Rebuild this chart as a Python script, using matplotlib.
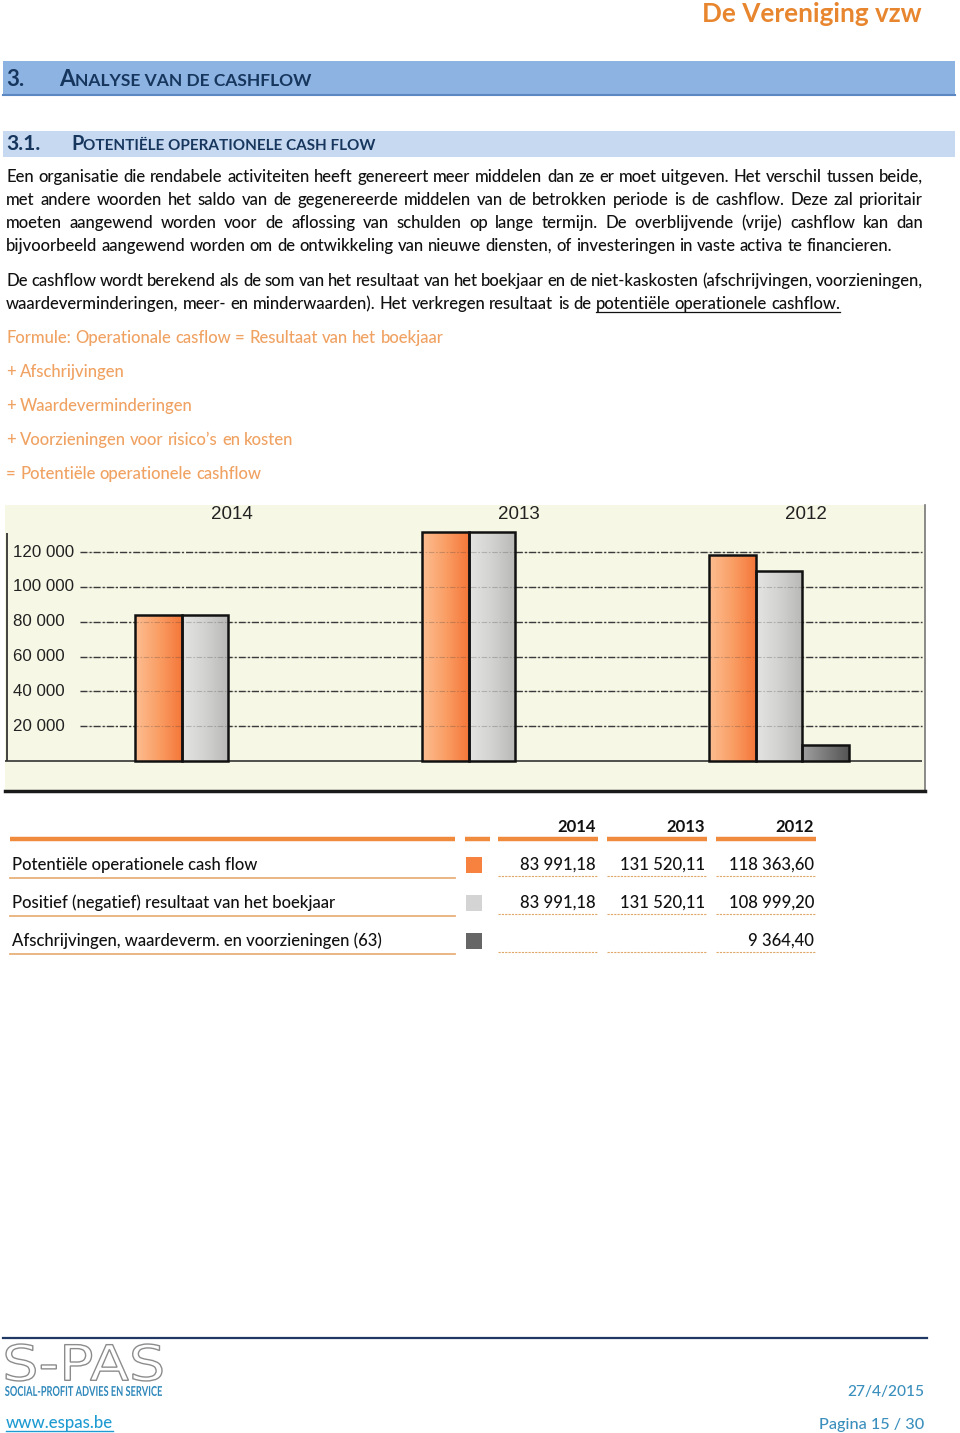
import numpy as np
import matplotlib
matplotlib.use('Agg')
import matplotlib.pyplot as plt
from matplotlib.patches import Rectangle, PathPatch
from matplotlib.colors import LinearSegmentedColormap
from matplotlib.textpath import TextPath
from matplotlib.font_manager import FontProperties
from matplotlib.transforms import Affine2D

# data of the chart / table
years = ['2014', '2013', '2012']
cashflow = [83991.18, 131520.11, 118363.60]
resultaat = [83991.18, 131520.11, 108999.20]
afschrijvingen = [np.nan, np.nan, 9364.40]
row_labels = ['Potentiële operationele cash flow',
              'Positief (negatief) resultaat van het boekjaar',
              'Afschrijvingen, waardeverm. en voorzieningen (63)']
yticks = [20000, 40000, 60000, 80000, 100000, 120000]
ytick_labels = ['20 000', '40 000', '60 000', '80 000', '100 000', '120 000']

para1 = ["Een organisatie die rendabele activiteiten heeft genereert meer middelen dan ze er moet uitgeven. Het verschil tussen beide,",
         "met andere woorden het saldo van de gegenereerde middelen van de betrokken periode is de cashflow. Deze zal prioritair",
         "moeten aangewend worden voor de aflossing van schulden op lange termijn. De overblijvende (vrije) cashflow kan dan",
         "bijvoorbeeld aangewend worden om de ontwikkeling van nieuwe diensten, of investeringen in vaste activa te financieren."]
para2 = ["De cashflow wordt berekend als de som van het resultaat van het boekjaar en de niet-kaskosten (afschrijvingen, voorzieningen,",
         "waardeverminderingen, meer- en minderwaarden). Het verkregen resultaat is de potentiële operationele cashflow."]
formula = ["Formule: Operationale casflow = Resultaat van het boekjaar",
           "+ Afschrijvingen",
           "+ Waardeverminderingen",
           "+ Voorzieningen voor risico’s en kosten",
           "= Potentiële operationele cashflow"]

BODY = 'Lato'
BW = 'medium'
ORANGE = '#f08a3c'
NAVY = '#17365d'

W, H = 960, 1433
fig = plt.figure(figsize=(9.6, 14.33), dpi=100)
page = fig.add_axes([0, 0, 1, 1])
page.set_xlim(0, W)
page.set_ylim(H, 0)
page.axis('off')
r = fig.canvas.get_renderer()


def width(t):
    return t.get_window_extent(r).width


def space_w(size, **kw):
    a = page.text(0, 0, 'a a', fontsize=size, family=BODY, fontweight=BW, **kw)
    b = page.text(0, 0, 'aa', fontsize=size, family=BODY, fontweight=BW, **kw)
    w = width(a) - width(b)
    a.remove(); b.remove()
    return w


def put(x, y, s, size=10, end=None, ha='left', family=BODY, **kw):
    kw.setdefault('fontweight', BW)
    t = page.text(x, y, s, fontsize=size, ha=ha, va='baseline', family=family, **kw)
    if end is not None:
        t.set_fontsize(size * abs(end - x) / width(t))
    return t


def words_line(x0, y, s, size, x1=None, color='#111', underline_from=None):
    words = s.split(' ')
    ts = [page.text(0, y, w_, fontsize=size, va='baseline', color=color, family=BODY,
                    fontweight=BW) for w_ in words]
    ws = [width(t) for t in ts]
    gap = space_w(size) if x1 is None else (x1 - x0 - sum(ws)) / (len(words) - 1)
    x = x0
    xs = []
    for t, w_ in zip(ts, ws):
        t.set_x(x)
        xs.append((x, x + w_))
        x += w_ + gap
    if underline_from is not None:
        page.plot([xs[underline_from][0], xs[-1][1]], [y + 3, y + 3], color=color, lw=0.9)
    return ts


def runs(x0, y, parts, end, **kw):
    ts = [page.text(0, y, s, fontsize=10 * rs, va='baseline', family=BODY, **kw) for s, rs in parts]
    k = (end - x0) / sum(width(t) for t in ts)
    x = x0
    for t, (s, rs) in zip(ts, parts):
        t.set_fontsize(10 * rs * k)
        t.set_x(x)
        x += width(t)


def path_text(s, x0, x1, ybase, height, prop, **kw):
    tp = TextPath((0, 0), s, size=100, prop=prop)
    bb = tp.get_extents()
    tr = (Affine2D().translate(-bb.x0, -bb.y0)
          .scale((x1 - x0) / bb.width, -height / bb.height)
          .translate(x0, ybase) + page.transData)
    page.add_patch(PathPatch(tp, transform=tr, **kw))


# body size from the last (not justified) line of paragraph 1
probe = [page.text(0, 0, w_, fontsize=10, family=BODY, fontweight=BW) for w_ in para1[3].split(' ')]
w10 = sum(width(t) for t in probe) + space_w(10) * (len(probe) - 1)
for t in probe:
    t.remove()
bs = 10 * 893 / w10

# page header
put(922, 22, 'De Vereniging vzw', 10, end=703, ha='right', color='#e8862f', fontweight='bold')

# heading 1
page.add_patch(Rectangle((3, 61), 952, 34, facecolor='#8db3e2', edgecolor='none'))
page.plot([3, 955], [94.5, 94.5], color='#5b87c3', lw=1.5)
put(6, 86, '3.', 10, end=24, color=NAVY, fontweight='bold')
runs(59, 86, [('A', 1.3), ('NALYSE VAN DE CASHFLOW', 1.0)], 312, color=NAVY, fontweight='bold')

# heading 2
page.add_patch(Rectangle((3, 131), 952, 26, facecolor='#c6d9f1', edgecolor='none'))
put(6, 150, '3.1.', 10, end=40, color=NAVY, fontweight='bold')
runs(71, 150, [('P', 1.3), ('OTENTIËLE OPERATIONELE CASH FLOW', 1.0)], 375, color=NAVY, fontweight='bold')

# paragraphs
for i, line in enumerate(para1):
    words_line(6, 182 + 23 * i, line, bs, x1=None if i == 3 else 923)
words_line(6, 286, para2[0], bs, x1=923)
words_line(6, 309, para2[1], bs, underline_from=len(para2[1].split(' ')) - 3)
for i, line in enumerate(formula):
    words_line(6, 343 + 34 * i, line, bs, color='#f0a262')

# ---------- chart ----------
ax = fig.add_axes([5 / W, 1 - 791 / H, 920 / W, 286 / H])
ax.set_facecolor('#f7f7e6')
for s in ['top', 'left']:
    ax.spines[s].set_visible(False)
ax.spines['right'].set_color('#777')
ax.spines['right'].set_linewidth(1.2)
ax.spines['bottom'].set_color('#1a1a1a')
ax.spines['bottom'].set_linewidth(2.5)
ax.set_xticks([])
ax.set_yticks([])

bw = 0.162
xlim = (-0.697, 2.509)
ylim = (-17230, 147120)
grid_x0, grid_x1 = -0.4355, 2.498

ax.hlines(yticks, grid_x0, grid_x1, colors='#3a3a3a', lw=1.0,
          linestyles=[(0, (5, 1.5, 1.5, 1.5))], zorder=2)
ax.hlines([0], xlim[0], grid_x1, colors='#333', lw=1.2, zorder=2)
ax.vlines([-0.690], 0, 131000, colors='#333', lw=1.3, zorder=2)
for v, lab in zip(yticks, ytick_labels):
    ax.text(-0.669, v, lab, fontsize=12.2, family='Liberation Sans', color='#222',
            ha='left', va='center')
x = np.arange(len(years))
for i, yr in enumerate(years):
    ax.text(x[i] + 0.094, 141400, yr, fontsize=13.5, family='Liberation Sans',
            color='#222', ha='center', va='center')

series = [(cashflow, ['#fdbd91', '#fa9f66', '#f4773a']),
          (resultaat, ['#e4e4e2', '#d2d2d0', '#b8b8b6']),
          (afschrijvingen, ['#a0a0a0', '#7a7a7a', '#555555'])]
for k, (vals, cols) in enumerate(series):
    vals = np.array(vals, dtype=float)
    ok = ~np.isnan(vals)
    xs = x[ok] + (k - 1) * bw
    bars = ax.bar(xs, vals[ok], bw, color=cols[1], edgecolor='none', zorder=3)
    cmap = LinearSegmentedColormap.from_list('g%d' % k, cols)
    for b in bars:
        im = ax.imshow(np.linspace(0, 1, 64).reshape(1, -1), cmap=cmap, aspect='auto',
                       extent=[b.get_x(), b.get_x() + b.get_width(), 0, b.get_height()],
                       zorder=3.5)
        im.set_clip_path(b)
    ax.bar(xs, vals[ok], bw, fill=False, edgecolor='#111', linewidth=1.8, zorder=4.5)
ax.hlines(yticks, grid_x0, grid_x1, colors='#3a3a3a', lw=0.8, alpha=0.25,
          linestyles=[(0, (5, 1.5, 1.5, 1.5))], zorder=4)
ax.set_xlim(*xlim)
ax.set_ylim(*ylim)

# ---------- table ----------
col_right = [596, 705, 814]
col_seg = [(498, 598), (607, 707), (716, 816)]
for yr, xr in zip(years, col_right):
    put(xr, 832, yr, bs, ha='right', color='#111', fontweight='bold')
for a, b in [(10, 455), (465, 490)] + col_seg:
    page.plot([a, b], [839, 839], color=ORANGE, lw=3.2, solid_capstyle='butt')


def fmt(v):
    if np.isnan(v):
        return ''
    return '{:,.2f}'.format(v).replace(',', ' ').replace('.', ',')


swatch = ['#f7813e', '#d4d4d4', '#666666']
rows = [cashflow, resultaat, afschrijvingen]
for j, (lab, vals) in enumerate(zip(row_labels, rows)):
    yb = 870 + 38 * j
    put(12, yb, lab, bs, color='#111')
    page.plot([10, 455], [yb + 8, yb + 8], color='#e8b07a', lw=1.3)
    page.add_patch(Rectangle((466, yb - 13), 16, 16, facecolor=swatch[j], edgecolor='none'))
    for v, xr, (a, b) in zip(vals, col_right, col_seg):
        put(xr, yb, fmt(v), bs, ha='right', color='#111')
        page.plot([a, b], [yb + 6, yb + 6], color='#e0a868', lw=0.8, ls=(0, (2, 1)))

# ---------- footer ----------
page.plot([3, 927], [1338, 1338], color='#1f3864', lw=1.6)
path_text('S-PAS', 6, 162, 1381, 37, FontProperties(family='DejaVu Sans'),
          facecolor='white', edgecolor='#8c8c8c', lw=1.0)
path_text('SOCIAL-PROFIT ADVIES EN SERVICE', 5, 162, 1396, 10,
          FontProperties(family=BODY, weight='bold'), facecolor='#2f88bb', edgecolor='none')
t = put(6, 1428, 'www.espas.be', 10, end=113, color='#1f9bd2')
page.plot([6, 113], [1431, 1431], color='#1f9bd2', lw=1.0)
put(924, 1396, '27/4/2015', 10, end=847, ha='right', color='#3a8fbd')
put(924, 1429, 'Pagina 15 / 30', 10, end=819, ha='right', color='#3a8fbd')

fig.savefig('out.png', dpi=100)
